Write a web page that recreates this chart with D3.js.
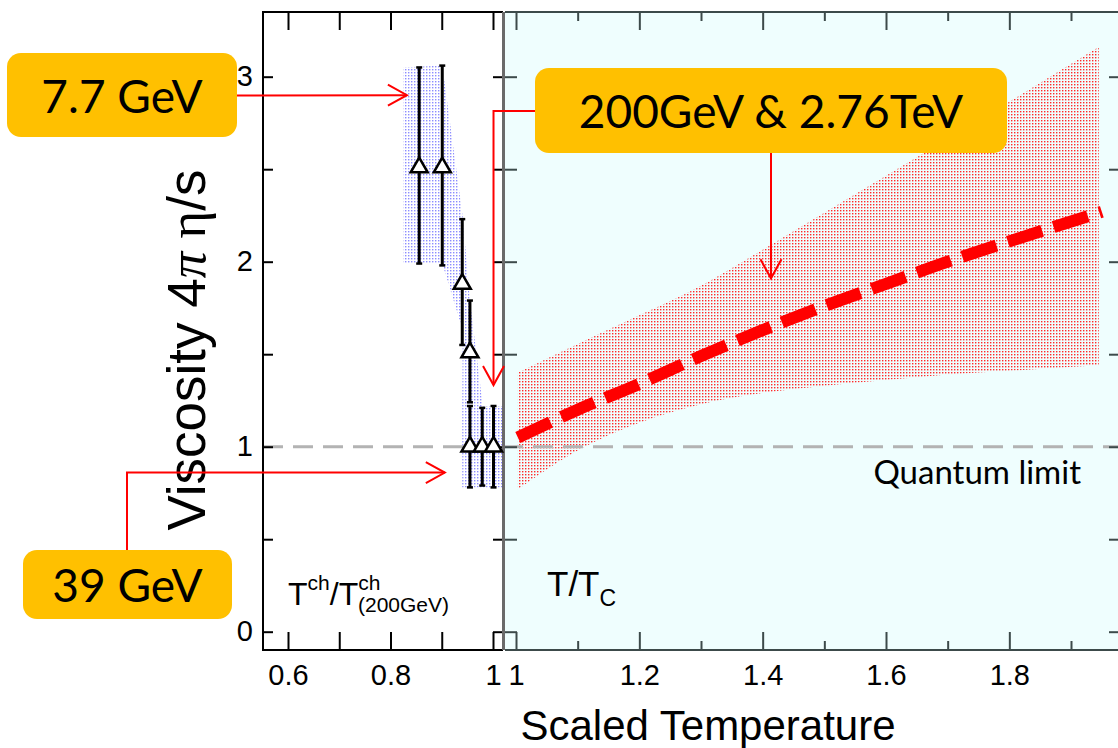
<!DOCTYPE html>
<html>
<head>
<meta charset="utf-8">
<script src="https://cdn.jsdelivr.net/npm/d3@7"></script>
<style>
body { margin: 0; background: #fff; }
svg { display: block; }
.tick text { font-family: "Liberation Sans", Arial, sans-serif; font-size: 29px; fill: #000; }
</style>
</head>
<body>
<div id="chart"></div>
<script>
// chemical freeze-out points (left panel), T^ch / T^ch(200GeV)
const ptT   = [0.856, 0.901, 0.940, 0.955, 0.955, 0.979, 1.001];
const ptEta = [2.51, 2.51, 1.88, 1.51, 1.00, 1.00, 1.00];
const ptLo  = [1.99, 1.98, 1.55, 1.24, 0.78, 0.79, 0.78];
const ptHi  = [3.05, 3.06, 2.23, 1.79, 1.22, 1.21, 1.22];

// blue band around the low energy points
const blueTopT = [0.825, 0.901, 0.941, 0.955, 0.980, 1.020];
const blueTop  = [3.05, 3.06, 2.24, 1.79, 1.22, 1.22];
const blueBotT = [0.825, 0.901, 0.941, 0.940, 0.940, 1.020];
const blueBot  = [1.99, 1.99, 1.63, 1.22, 0.78, 0.78];

// 200GeV & 2.76TeV band and central curve (right panel), T/Tc
const bandT  = [1.003, 1.1, 1.2, 1.3, 1.4, 1.5, 1.6, 1.7, 1.8, 1.945];
const bandHi = [1.40, 1.555, 1.71, 1.87, 2.065, 2.265, 2.465, 2.665, 2.865, 3.16];
const bandLo = [0.77, 0.98, 1.13, 1.23, 1.29, 1.33, 1.36, 1.39, 1.41, 1.44];
const fitT   = [1.003, 1.1, 1.2, 1.3, 1.4, 1.5, 1.6, 1.7, 1.8, 1.95];
const fitEta = [1.05, 1.20, 1.34, 1.49, 1.63, 1.76, 1.88, 2.00, 2.11, 2.27];

const quantumLimit = 1;

// ticks
const yTicks = [0, 0.5, 1, 1.5, 2, 2.5, 3];
const leftXTicks = [0.6, 0.7, 0.8, 0.9, 1.0];
const leftXLabels = [0.6, 0.8, 1.0];
const rightMajor = [1.0, 1.2, 1.4, 1.6, 1.8];
const rightMinor = [1.1, 1.3, 1.5, 1.7, 1.9];

const width = 1118, height = 748;
const plotTop = 12, plotBottom = 650;
const leftX0 = 263, leftX1 = 503, rightX0 = 505, rightX1 = 1121;

const svg = d3.select("#chart")
    .append("svg")
    .attr("width", width)
    .attr("height", height);

const y = d3.scaleLinear().domain([0, 3]).range([631.7, 76.7]);
const xL = d3.scaleLinear().domain([0.6, 1.0]).range([288, 493]);
const xR = d3.scaleLinear().domain([1.0, 1.9]).range([516, 1071]);

const defs = svg.append("defs");
defs.append("pattern")
    .attr("id", "redDots")
    .attr("width", 3).attr("height", 3)
    .attr("patternUnits", "userSpaceOnUse")
    .append("rect")
    .attr("width", 1.4).attr("height", 1.4)
    .attr("fill", "#ff2a2a");
defs.append("pattern")
    .attr("id", "blueDots")
    .attr("width", 3).attr("height", 3)
    .attr("patternUnits", "userSpaceOnUse")
    .append("rect")
    .attr("width", 1.4).attr("height", 1.4)
    .attr("fill", "#8c8cff");

// right panel background
svg.append("rect")
    .attr("x", rightX0).attr("y", plotTop)
    .attr("width", rightX1 - rightX0).attr("height", plotBottom - plotTop)
    .attr("fill", "#effefe");

// bands
const blueArea = d3.line().x(d => xL(d[0])).y(d => y(d[1]));
const bluePoly = blueTopT.map((t, i) => [t, blueTop[i]])
    .concat(blueBotT.map((t, i) => [t, blueBot[i]]).reverse());
svg.append("path")
    .attr("d", blueArea(bluePoly) + "Z")
    .attr("fill", "url(#blueDots)");

const redArea = d3.area()
    .x((d, i) => xR(bandT[i]))
    .y0((d, i) => y(bandLo[i]))
    .y1((d, i) => y(bandHi[i]))
    .curve(d3.curveMonotoneX);
svg.append("path")
    .datum(bandT)
    .attr("d", redArea)
    .attr("fill", "url(#redDots)");

// quantum limit line
svg.append("line")
    .attr("x1", leftX0).attr("x2", rightX1)
    .attr("y1", y(quantumLimit)).attr("y2", y(quantumLimit))
    .attr("stroke", "#b3b3b3")
    .attr("stroke-width", 3)
    .attr("stroke-dasharray", "20,10");

// axes, left panel
function styleAxis(g, color) {
    g.select(".domain").remove();
    g.selectAll(".tick line").attr("stroke", color).attr("stroke-width", 2);
}

svg.append("g")
    .attr("transform", `translate(0,${plotBottom})`)
    .call(d3.axisBottom(xL).tickValues(leftXTicks).tickSizeInner(-18).tickSizeOuter(0).tickPadding(14)
        .tickFormat(d => leftXLabels.some(v => Math.abs(v - d) < 1e-9) ? d3.format("~g")(d) : ""))
    .call(g => styleAxis(g, "#000"));
svg.append("g")
    .attr("transform", `translate(0,${plotTop})`)
    .call(d3.axisTop(xL).tickValues(leftXTicks).tickSizeInner(-18).tickSizeOuter(0).tickFormat(""))
    .call(g => styleAxis(g, "#000"));
svg.append("g")
    .attr("transform", `translate(${leftX0},0)`)
    .call(d3.axisLeft(y).tickValues(yTicks).tickSizeInner(-10).tickSizeOuter(0).tickPadding(10)
        .tickFormat(d => Number.isInteger(d) ? d : ""))
    .call(g => styleAxis(g, "#000"));
svg.append("g")
    .attr("transform", `translate(${leftX1},0)`)
    .call(d3.axisRight(y).tickValues(yTicks).tickSizeInner(-10).tickSizeOuter(0).tickFormat(""))
    .call(g => styleAxis(g, "#000"));

// axes, right panel
const rc = "#3c4a4a";
svg.append("g")
    .attr("transform", `translate(0,${plotBottom})`)
    .call(d3.axisBottom(xR).tickValues(rightMajor).tickSizeInner(-18).tickSizeOuter(0).tickPadding(14)
        .tickFormat(d => d === 1 ? "1" : d3.format(".1f")(d)))
    .call(g => styleAxis(g, rc));
svg.append("g")
    .attr("transform", `translate(0,${plotBottom})`)
    .call(d3.axisBottom(xR).tickValues(rightMinor).tickSizeInner(-9).tickSizeOuter(0).tickFormat(""))
    .call(g => styleAxis(g, rc));
svg.append("g")
    .attr("transform", `translate(0,${plotTop})`)
    .call(d3.axisTop(xR).tickValues(rightMajor).tickSizeInner(-18).tickSizeOuter(0).tickFormat(""))
    .call(g => styleAxis(g, rc));
svg.append("g")
    .attr("transform", `translate(0,${plotTop})`)
    .call(d3.axisTop(xR).tickValues(rightMinor).tickSizeInner(-9).tickSizeOuter(0).tickFormat(""))
    .call(g => styleAxis(g, rc));
svg.append("g")
    .attr("transform", `translate(${rightX0},0)`)
    .call(d3.axisLeft(y).tickValues(yTicks).tickSizeInner(-12).tickSizeOuter(0).tickFormat(""))
    .call(g => styleAxis(g, rc));
svg.append("g")
    .attr("transform", `translate(${rightX1},0)`)
    .call(d3.axisRight(y).tickValues(yTicks).tickSizeInner(-12).tickSizeOuter(0).tickFormat(""))
    .call(g => styleAxis(g, rc));

// frames
svg.append("path")
    .attr("d", `M${leftX1},${plotTop}H${leftX0}V${plotBottom}H${leftX1}`)
    .attr("fill", "none").attr("stroke", "#000").attr("stroke-width", 2);
svg.append("path")
    .attr("d", `M${rightX0},${plotTop}H${rightX1}M${rightX0},${plotBottom}H${rightX1}`)
    .attr("fill", "none").attr("stroke", rc).attr("stroke-width", 2);
svg.append("line")
    .attr("x1", 503.5).attr("x2", 503.5).attr("y1", plotTop).attr("y2", plotBottom)
    .attr("stroke", "#6a6a6a").attr("stroke-width", 3);

// error bars and points
const pts = ptT.map((t, i) => ({ t: t, v: ptEta[i], lo: ptLo[i], hi: ptHi[i] }));
const eb = svg.append("g").attr("stroke", "#000");
eb.selectAll("line.bar").data(pts).join("line")
    .attr("class", "bar")
    .attr("x1", d => xL(d.t)).attr("x2", d => xL(d.t))
    .attr("y1", d => y(d.lo)).attr("y2", d => y(d.hi))
    .attr("stroke-width", 3);
eb.selectAll("line.capHi").data(pts).join("line")
    .attr("class", "capHi")
    .attr("x1", d => xL(d.t) - 3).attr("x2", d => xL(d.t) + 3)
    .attr("y1", d => y(d.hi)).attr("y2", d => y(d.hi))
    .attr("stroke-width", 2.5);
eb.selectAll("line.capLo").data(pts).join("line")
    .attr("class", "capLo")
    .attr("x1", d => xL(d.t) - 3).attr("x2", d => xL(d.t) + 3)
    .attr("y1", d => y(d.lo)).attr("y2", d => y(d.lo))
    .attr("stroke-width", 2.5);
svg.append("g").selectAll("path").data(pts).join("path")
    .attr("d", d3.symbol(d3.symbolTriangle, 125))
    .attr("transform", d => `translate(${xL(d.t)},${y(d.v)})`)
    .attr("fill", "#fff")
    .attr("stroke", "#000")
    .attr("stroke-width", 2.5);

// central curve
svg.append("path")
    .datum(fitT)
    .attr("d", d3.line().x(d => xR(d)).y((d, i) => y(fitEta[i])).curve(d3.curveMonotoneX))
    .attr("fill", "none")
    .attr("stroke", "#ff0000")
    .attr("stroke-width", 12)
    .attr("stroke-dasharray", "36,12");

// panel labels
const sans = "'Liberation Sans', Arial, sans-serif";
const lbl1 = svg.append("text").attr("font-family", sans).attr("fill", "#000");
lbl1.append("tspan").attr("x", 288).attr("y", 605).attr("font-size", 32).text("T");
lbl1.append("tspan").attr("y", 590).attr("font-size", 21).text("ch");
lbl1.append("tspan").attr("y", 605).attr("font-size", 32).text("/T");
lbl1.append("tspan").attr("y", 590).attr("font-size", 21).text("ch");
lbl1.append("tspan").attr("x", 358).attr("y", 612).attr("font-size", 21).text("(200GeV)");

const lbl2 = svg.append("text").attr("font-family", sans).attr("fill", "#000");
lbl2.append("tspan").attr("x", 547).attr("y", 596).attr("font-size", 35).text("T/T");
lbl2.append("tspan").attr("y", 606).attr("font-size", 23).text("C");

svg.append("text")
    .attr("x", 1081).attr("y", 484)
    .attr("text-anchor", "end")
    .attr("font-family", "Lato, 'Open Sans', sans-serif")
    .attr("font-size", 33)
    .text("Quantum limit");

// axis titles
svg.append("text")
    .attr("x", 708).attr("y", 740)
    .attr("text-anchor", "middle")
    .attr("font-family", sans)
    .attr("font-size", 42)
    .text("Scaled Temperature");

const yt = svg.append("text")
    .attr("transform", "translate(205,350) rotate(-90)")
    .attr("text-anchor", "middle")
    .attr("font-family", sans)
    .attr("font-size", 53);
yt.append("tspan").text("Viscosity 4");
yt.append("tspan").attr("font-family", "'Liberation Serif', serif").attr("font-style", "italic").text("π ");
yt.append("tspan").attr("font-family", "'Liberation Serif', serif").text("η");
yt.append("tspan").text("/s");

// annotation boxes and arrows
const boxes = [
    { x: 7, y: 53, w: 230, h: 84, label: "7.7 GeV", base: 113 },
    { x: 23, y: 550, w: 209, h: 69, label: "39 GeV", base: 602 },
    { x: 535, y: 68, w: 472, h: 85, label: "200GeV & 2.76TeV", base: 128 }
];
const arrows = [
    [[237, 95.5], [xL(0.832), y(2.90)]],
    [[127, 550], [127, y(0.86)], [xL(0.906), y(0.86)]],
    [[535, 111], [xL(1.001), 111], [xL(1.001), y(1.333)]],
    [[771, 153], [xR(1.4135), y(1.91)]]
];

const ag = svg.append("g").attr("stroke", "#ff0000").attr("stroke-width", 2).attr("fill", "none");
arrows.forEach(p => {
    ag.append("path").attr("d", d3.line()(p));
    const a = p[p.length - 2], b = p[p.length - 1];
    const ang = Math.atan2(b[1] - a[1], b[0] - a[0]);
    const L = 19, W = 10.5;
    const bx = b[0] - L * Math.cos(ang), by = b[1] - L * Math.sin(ang);
    const nx = -Math.sin(ang) * W, ny = Math.cos(ang) * W;
    ag.append("path").attr("d", d3.line()([[bx + nx, by + ny], b, [bx - nx, by - ny]]));
});

const bg = svg.append("g");
bg.selectAll("rect").data(boxes).join("rect")
    .attr("x", d => d.x).attr("y", d => d.y)
    .attr("width", d => d.w).attr("height", d => d.h)
    .attr("rx", 14)
    .attr("fill", "#ffc000");
bg.selectAll("text").data(boxes).join("text")
    .attr("x", d => d.x + d.w / 2).attr("y", d => d.base)
    .attr("text-anchor", "middle")
    .attr("font-family", "Lato, 'Open Sans', sans-serif")
    .attr("font-size", 46)
    .attr("fill", "#000")
    .text(d => d.label);
</script>
</body>
</html>
